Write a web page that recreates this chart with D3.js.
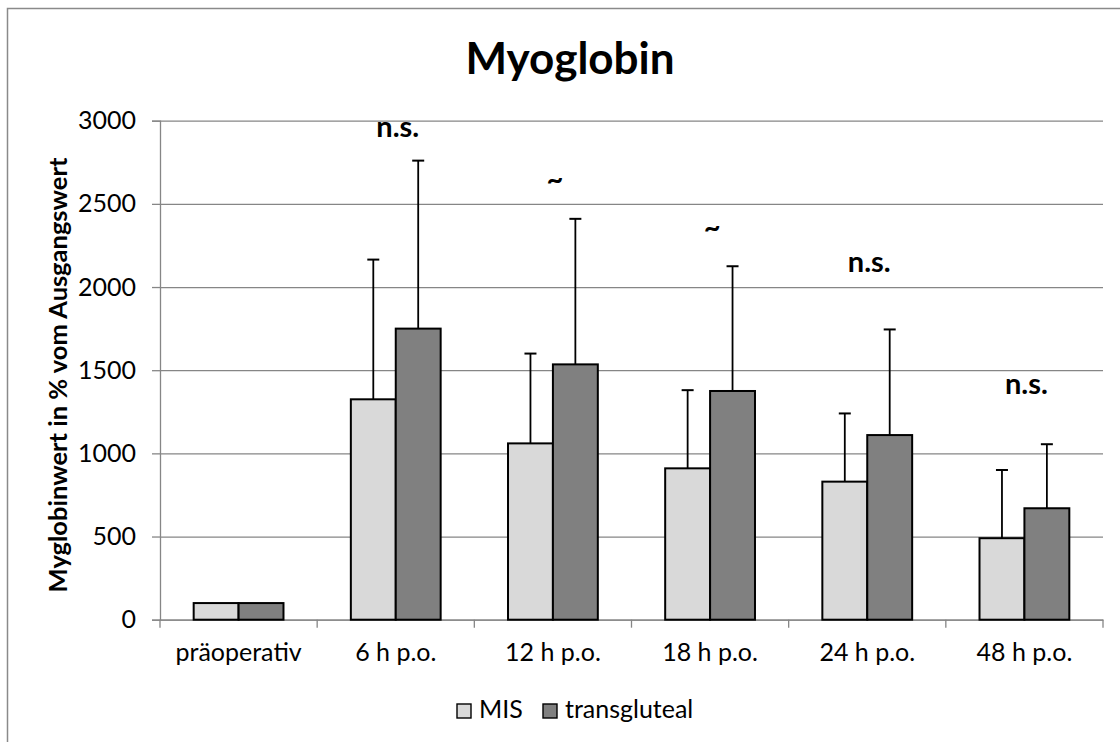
<!DOCTYPE html>
<html>
<head>
<meta charset="utf-8">
<script src="https://cdn.jsdelivr.net/npm/d3@7"></script>
<style>
  html, body { margin: 0; padding: 0; background: #fff; }
  svg { display: block; font-family: Lato, "Open Sans", sans-serif; }
</style>
</head>
<body>
<svg id="chart" width="1120" height="742"></svg>
<script>
// ---- data ----
const categories = ["präoperativ", "6 h p.o.", "12 h p.o.", "18 h p.o.", "24 h p.o.", "48 h p.o."];
const seriesNames = ["MIS", "transgluteal"];
const misValues = [100, 1325, 1060, 910, 830, 490];
const transValues = [100, 1750, 1535, 1375, 1110, 670];
const misSD = [0, 840, 540, 470, 410, 410];
const transSD = [0, 1010, 875, 750, 635, 385];
const annotations = ["", "n.s.", "~", "~", "n.s.", "n.s."];
const annotationLevels = [null, 2900, 2590, 2300, 2088, 1354];
const yTicks = [0, 500, 1000, 1500, 2000, 2500, 3000];
const colors = ["#d9d9d9", "#808080"];

// ---- layout ----
const svg = d3.select("#chart");
const plot = { left: 160, right: 1103, top: 120.7, bottom: 619.7 };

// outer chart border (top and left visible)
svg.append("path")
  .attr("d", "M7.5,742 L7.5,8.5 L1120,8.5")
  .attr("fill", "none").attr("stroke", "#8a8a8a").attr("stroke-width", 1.5);

const x = d3.scaleBand().domain(categories).range([plot.left, plot.right]).paddingInner(0).paddingOuter(0);
const bw = x.bandwidth() / 3.5;
const xs = d3.scaleBand().domain(seriesNames).range([bw * 0.75, bw * 0.75 + 2 * bw]);
const y = d3.scaleLinear().domain([0, 3000]).range([plot.bottom, plot.top]);

// gridlines + y axis
const yAxis = d3.axisLeft(y).tickValues(yTicks).tickSize(8).tickPadding(16).tickFormat(d3.format("d"));
const gy = svg.append("g").attr("transform", `translate(${plot.left},0)`).call(yAxis);
gy.select(".domain").attr("stroke", "#868686").attr("stroke-width", 1.3);
gy.selectAll(".tick line").attr("stroke", "#868686").attr("stroke-width", 1.3);
gy.selectAll(".tick text").attr("fill", "#000").attr("font-size", 25).attr("font-family", "Lato");
gy.selectAll(".tick").append("line")
  .attr("x1", 0).attr("x2", plot.right - plot.left)
  .attr("stroke", "#868686").attr("stroke-width", 1.3);

// x axis
const xAxis = d3.axisBottom(x).tickSize(0).tickPadding(24);
const gx = svg.append("g").attr("transform", `translate(0,${plot.bottom})`).call(xAxis);
gx.select(".domain").attr("stroke", "#868686").attr("stroke-width", 1.3);
gx.selectAll(".tick text").attr("fill", "#000").attr("font-size", 25).attr("font-family", "Lato");
// category boundary ticks
const boundaries = categories.map(c => x(c)).concat([plot.right]);
gx.selectAll(".bt").data(boundaries).enter().append("line")
  .attr("x1", d => d).attr("x2", d => d).attr("y1", 0).attr("y2", 8)
  .attr("stroke", "#868686").attr("stroke-width", 1.3);

// bars
const rows = categories.map((c, i) => ({
  cat: c,
  vals: [
    { s: "MIS", v: misValues[i], sd: misSD[i], color: colors[0] },
    { s: "transgluteal", v: transValues[i], sd: transSD[i], color: colors[1] }
  ]
}));

const groups = svg.selectAll(".grp").data(rows).enter().append("g")
  .attr("transform", d => `translate(${x(d.cat)},0)`);

// error bars (drawn behind bars)
groups.selectAll(".err").data(d => d.vals.filter(v => v.sd > 0)).enter().append("g")
  .each(function (d) {
    const g = d3.select(this);
    const cx = xs(d.s) + xs.bandwidth() / 2;
    g.append("line").attr("x1", cx).attr("x2", cx).attr("y1", y(d.v)).attr("y2", y(d.v + d.sd))
      .attr("stroke", "#000").attr("stroke-width", 1.8);
    g.append("line").attr("x1", cx - 6).attr("x2", cx + 6).attr("y1", y(d.v + d.sd)).attr("y2", y(d.v + d.sd))
      .attr("stroke", "#000").attr("stroke-width", 2);
  });

groups.selectAll("rect").data(d => d.vals).enter().append("rect")
  .attr("x", d => xs(d.s))
  .attr("width", xs.bandwidth())
  .attr("y", d => y(d.v))
  .attr("height", d => y(0) - y(d.v))
  .attr("fill", d => d.color)
  .attr("stroke", "#000").attr("stroke-width", 2);

// annotations
svg.selectAll(".ann").data(categories.map((c, i) => ({ c, t: annotations[i], v: annotationLevels[i] })).filter(d => d.t))
  .enter().append("text")
  .attr("x", d => x(d.c) + x.bandwidth() / 2 + 2)
  .attr("y", d => y(d.v))
  .attr("text-anchor", "middle")
  .attr("font-size", 29).attr("font-weight", "bold").attr("font-family", "Lato")
  .attr("fill", "#000")
  .text(d => d.t);

// title
svg.append("text").attr("x", 570).attr("y", 74).attr("text-anchor", "middle")
  .attr("font-size", 44).attr("font-weight", "bold").attr("font-family", "Lato")
  .attr("fill", "#000").text("Myoglobin");

// y axis title
svg.append("text")
  .attr("transform", `translate(67,375) rotate(-90)`)
  .attr("text-anchor", "middle")
  .attr("font-size", 25.5).attr("font-weight", "bold").attr("font-family", "Lato")
  .attr("fill", "#000").text("Myglobinwert in % vom Ausgangswert");

// legend
const legendItems = [
  { name: seriesNames[0], color: colors[0], x: 457 },
  { name: seriesNames[1], color: colors[1], x: 543 }
];
const lg = svg.selectAll(".lg").data(legendItems).enter().append("g")
  .attr("transform", d => `translate(${d.x},704)`);
lg.append("rect").attr("width", 14).attr("height", 14)
  .attr("fill", d => d.color).attr("stroke", "#000").attr("stroke-width", 1.4);
lg.append("text").attr("x", 22).attr("y", 14)
  .attr("font-size", 25).attr("font-family", "Lato").attr("fill", "#000")
  .text(d => d.name);
</script>
</body>
</html>
